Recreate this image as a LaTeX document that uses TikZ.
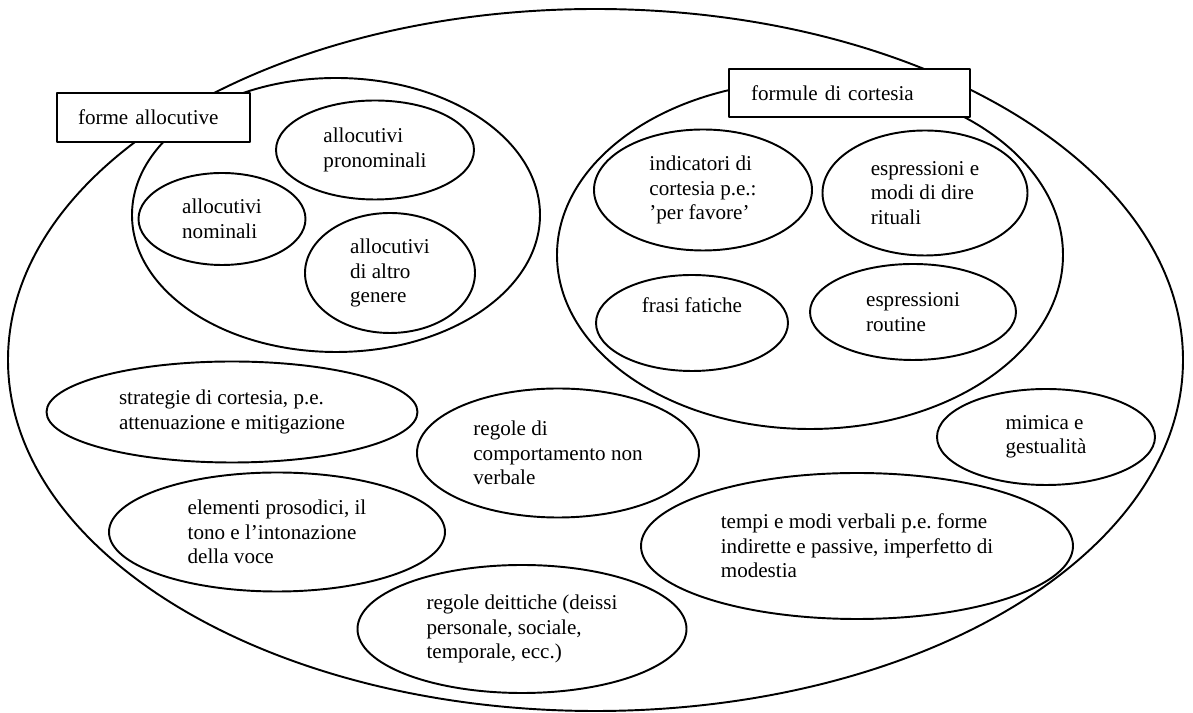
\documentclass[tikz,border=0pt]{standalone}
\usepackage{fontspec}
\setmainfont{Liberation Serif}
\usepackage{tikz}
\usetikzlibrary{shapes.geometric}
\frenchspacing

\begin{document}
\begin{tikzpicture}[line cap=round,line join=round,x=1.0cm,y=1.0cm,
  oval/.style={ellipse,draw,line width=1.1pt,inner sep=0pt,align=left,font=\fontsize{12}{14}\selectfont},
  cornice/.style={rectangle,draw,fill=white,line width=1.1pt,inner ysep=0pt,align=left,font=\fontsize{12}{14}\selectfont}]
\useasboundingbox (0.,0.) rectangle (23.86,14.26);

\node[oval,minimum width=23.5cm,minimum height=14.04cm] (tutto) at (11.91,7.06) {};

% forme allocutive
\node[oval,minimum width=8.16cm,minimum height=5.48cm] (allocutive) at (6.72,9.96) {};
\node[oval,minimum width=3.96cm,minimum height=1.98cm] (pronominali) at (7.50,11.26) {allocutivi\\pronominali};
\node[oval,minimum width=3.34cm,minimum height=1.84cm] (nominali) at (4.44,9.88) {allocutivi\\nominali};
\node[oval,minimum width=3.40cm,minimum height=2.40cm] (altro) at (7.80,8.80) {allocutivi\\di altro\\genere};

% formule di cortesia
\node[oval,minimum width=10.12cm,minimum height=6.96cm] (cortesia) at (16.20,9.16) {};
\node[oval,minimum width=4.36cm,minimum height=2.42cm] (indicatori) at (14.06,10.46) {indicatori di\\cortesia p.e.:\\’per favore’};
\node[oval,minimum width=4.10cm,minimum height=2.50cm] (rituali) at (18.50,10.40) {espressioni e\\modi di dire\\rituali};
\node[oval,minimum width=3.84cm,minimum height=1.92cm] (fatiche) at (13.84,7.80) {frasi fatiche\\[6pt]};
\node[oval,minimum width=4.12cm,minimum height=1.92cm] (routine) at (18.26,8.02) {espressioni\\routine};

% il resto
\node[oval,minimum width=7.42cm,minimum height=2.02cm] (strategie) at (4.64,6.02) {strategie di cortesia, p.e.\\attenuazione e mitigazione};
\node[oval,minimum width=5.64cm,minimum height=2.58cm] (nonverbale) at (11.16,5.20) {regole di\\comportamento non\\verbale};
\node[oval,minimum width=4.36cm,minimum height=1.92cm] (mimica) at (20.92,5.52) {mimica e\\gestualità};
\node[oval,minimum width=6.72cm,minimum height=2.38cm] (prosodia) at (5.54,3.62) {elementi prosodici, il\\tono e l’intonazione\\della voce};
\node[oval,minimum width=8.64cm,minimum height=2.92cm] (tempi) at (17.14,3.34) {tempi e modi verbali p.e. forme\\indirette e passive, imperfetto di\\modestia};
\node[oval,minimum width=6.58cm,minimum height=2.56cm] (deittiche) at (10.44,1.68) {regole deittiche (deissi\\personale, sociale,\\temporale, ecc.)};

\node[cornice,minimum height=0.98cm,inner xsep=0.42cm,text width=3.02cm] (formeTit) at (3.07,11.91) {forme allocutive};
\node[cornice,minimum height=0.96cm,inner xsep=0.44cm,text width=3.94cm] (formuleTit) at (16.99,12.40) {formule di cortesia};
\end{tikzpicture}
\end{document}
